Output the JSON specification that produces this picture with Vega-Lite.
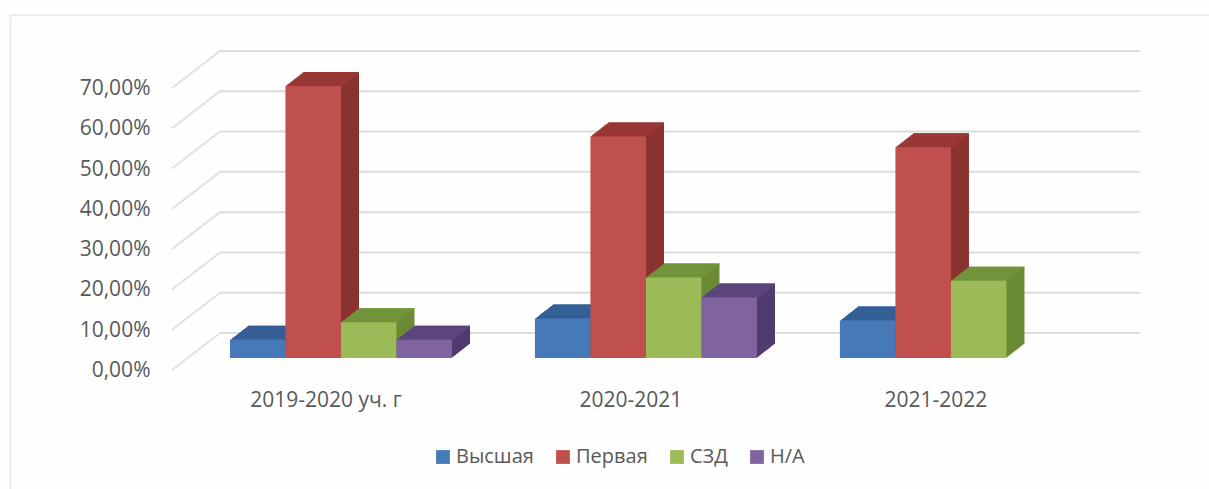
{
"$schema":"https://vega.github.io/schema/vega-lite/v6.json",
"width":968,"height":282,
"autosize":"none",
"padding":{"left":172,"top":76,"right":69,"bottom":131},
"background":"#fefefe",
"config":{"view":{"stroke":null},"font":"Open Sans"},
"datasets":{
 "ticks":[{"tick":0},{"tick":10},{"tick":20},{"tick":30},{"tick":40},{"tick":50},{"tick":60},{"tick":70}],
 "bars":[
 {"year":"2019-2020 уч. г","series":"Высшая","share":4.5},
 {"year":"2019-2020 уч. г","series":"Первая","share":67.5},
 {"year":"2019-2020 уч. г","series":"СЗД","share":8.9},
 {"year":"2019-2020 уч. г","series":"Н/А","share":4.5},
 {"year":"2020-2021","series":"Высшая","share":9.8},
 {"year":"2020-2021","series":"Первая","share":55},
 {"year":"2020-2021","series":"СЗД","share":20},
 {"year":"2020-2021","series":"Н/А","share":15},
 {"year":"2021-2022","series":"Высшая","share":9.3},
 {"year":"2021-2022","series":"Первая","share":52.3},
 {"year":"2021-2022","series":"СЗД","share":19.2}
 ]},
"resolve":{"scale":{"x":"independent"}},
"layer":[
{"data":{"values":[{"frame":"рамка"}]},
 "mark":{"type":"rect","fill":null,"stroke":"#ececec","strokeWidth":2},
 "encoding":{"x":{"datum":-3.955,"type":"quantitative","scale":{"domain":[-1.045,16.396],"nice":false,"zero":false},"axis":null},"x2":{"datum":17.75},"y":{"datum":85.1,"type":"quantitative","scale":{"domain":[0,70]}},"y2":{"datum":-34}}},
{"data":{"name":"ticks"},
 "encoding":{
  "y":{"field":"tick","type":"quantitative","scale":{"domain":[0,70]},"title":null,
   "axis":{"values":[0,10,20,30,40,50,60,70],"domain":false,"ticks":false,"grid":false,"labelPadding":22,"labelOffset":12.5,"labelFontSize":21,"labelColor":"#595959","labelExpr":"replace(format(datum.value,'.2f'),'.',',')+'%'"}},
  "y2":{"field":"tick"}
 },
 "layer":[
 {"mark":{"type":"rule","stroke":"#e2e2e2","strokeWidth":2,"yOffset":12,"y2Offset":-25},
  "encoding":{"x":{"datum":-1.045,"type":"quantitative","scale":{"domain":[-1.045,16.396],"nice":false,"zero":false},"axis":null},"x2":{"datum":-0.18}}},
 {"mark":{"type":"rule","stroke":"#dcdcdc","strokeWidth":2,"yOffset":-25,"y2Offset":-25},
  "encoding":{"x":{"datum":-0.18,"type":"quantitative","scale":{"domain":[-1.045,16.396],"nice":false,"zero":false},"axis":null},"x2":{"datum":16.396}}}
 ]},
{"data":{"name":"bars"},
 "transform":[
  {"calculate":"datum.series+' бок'","as":"side"},
  {"calculate":"datum.series+' верх'","as":"top"},
  {"calculate":"indexof(['2019-2020 уч. г','2020-2021','2021-2022'],datum.year)*5.495+indexof(['Высшая','Первая','СЗД','Н/А'],datum.series)","as":"slot"},
  {"calculate":"datum.slot+1","as":"slotEnd"}
 ],
 "encoding":{
  "x":{"field":"slot","type":"quantitative","title":null,"scale":{"domain":[-1.045,16.396],"nice":false,"zero":false},"axis":null},
  "x2":{"field":"slotEnd"},
  "y":{"field":"share","type":"quantitative"}
 },
 "layer":[
 {"mark":{"type":"rect","xOffset":18,"x2Offset":18,"yOffset":-14,"y2Offset":-14},"encoding":{"y2":{"datum":0},"color":{"field":"side","type":"nominal"}}},
 {"mark":{"type":"rect","xOffset":18,"x2Offset":18,"yOffset":-14,"y2Offset":-12.8},"encoding":{"y2":{"field":"share"},"color":{"field":"top","type":"nominal"}}},
 {"mark":{"type":"rect","xOffset":17,"x2Offset":17,"yOffset":-13.2,"y2Offset":-13.2},"encoding":{"y2":{"datum":0},"color":{"field":"side","type":"nominal"}}},
 {"mark":{"type":"rect","xOffset":17,"x2Offset":17,"yOffset":-13.2,"y2Offset":-12},"encoding":{"y2":{"field":"share"},"color":{"field":"top","type":"nominal"}}},
 {"mark":{"type":"rect","xOffset":16,"x2Offset":16,"yOffset":-12.4,"y2Offset":-12.4},"encoding":{"y2":{"datum":0},"color":{"field":"side","type":"nominal"}}},
 {"mark":{"type":"rect","xOffset":16,"x2Offset":16,"yOffset":-12.4,"y2Offset":-11.2},"encoding":{"y2":{"field":"share"},"color":{"field":"top","type":"nominal"}}},
 {"mark":{"type":"rect","xOffset":15,"x2Offset":15,"yOffset":-11.7,"y2Offset":-11.7},"encoding":{"y2":{"datum":0},"color":{"field":"side","type":"nominal"}}},
 {"mark":{"type":"rect","xOffset":15,"x2Offset":15,"yOffset":-11.7,"y2Offset":-10.5},"encoding":{"y2":{"field":"share"},"color":{"field":"top","type":"nominal"}}},
 {"mark":{"type":"rect","xOffset":14,"x2Offset":14,"yOffset":-10.9,"y2Offset":-10.9},"encoding":{"y2":{"datum":0},"color":{"field":"side","type":"nominal"}}},
 {"mark":{"type":"rect","xOffset":14,"x2Offset":14,"yOffset":-10.9,"y2Offset":-9.7},"encoding":{"y2":{"field":"share"},"color":{"field":"top","type":"nominal"}}},
 {"mark":{"type":"rect","xOffset":13,"x2Offset":13,"yOffset":-10.1,"y2Offset":-10.1},"encoding":{"y2":{"datum":0},"color":{"field":"side","type":"nominal"}}},
 {"mark":{"type":"rect","xOffset":13,"x2Offset":13,"yOffset":-10.1,"y2Offset":-8.9},"encoding":{"y2":{"field":"share"},"color":{"field":"top","type":"nominal"}}},
 {"mark":{"type":"rect","xOffset":12,"x2Offset":12,"yOffset":-9.3,"y2Offset":-9.3},"encoding":{"y2":{"datum":0},"color":{"field":"side","type":"nominal"}}},
 {"mark":{"type":"rect","xOffset":12,"x2Offset":12,"yOffset":-9.3,"y2Offset":-8.1},"encoding":{"y2":{"field":"share"},"color":{"field":"top","type":"nominal"}}},
 {"mark":{"type":"rect","xOffset":11,"x2Offset":11,"yOffset":-8.6,"y2Offset":-8.6},"encoding":{"y2":{"datum":0},"color":{"field":"side","type":"nominal"}}},
 {"mark":{"type":"rect","xOffset":11,"x2Offset":11,"yOffset":-8.6,"y2Offset":-7.4},"encoding":{"y2":{"field":"share"},"color":{"field":"top","type":"nominal"}}},
 {"mark":{"type":"rect","xOffset":10,"x2Offset":10,"yOffset":-7.8,"y2Offset":-7.8},"encoding":{"y2":{"datum":0},"color":{"field":"side","type":"nominal"}}},
 {"mark":{"type":"rect","xOffset":10,"x2Offset":10,"yOffset":-7.8,"y2Offset":-6.6},"encoding":{"y2":{"field":"share"},"color":{"field":"top","type":"nominal"}}},
 {"mark":{"type":"rect","xOffset":9,"x2Offset":9,"yOffset":-7,"y2Offset":-7},"encoding":{"y2":{"datum":0},"color":{"field":"side","type":"nominal"}}},
 {"mark":{"type":"rect","xOffset":9,"x2Offset":9,"yOffset":-7,"y2Offset":-5.8},"encoding":{"y2":{"field":"share"},"color":{"field":"top","type":"nominal"}}},
 {"mark":{"type":"rect","xOffset":8,"x2Offset":8,"yOffset":-6.2,"y2Offset":-6.2},"encoding":{"y2":{"datum":0},"color":{"field":"side","type":"nominal"}}},
 {"mark":{"type":"rect","xOffset":8,"x2Offset":8,"yOffset":-6.2,"y2Offset":-5},"encoding":{"y2":{"field":"share"},"color":{"field":"top","type":"nominal"}}},
 {"mark":{"type":"rect","xOffset":7,"x2Offset":7,"yOffset":-5.4,"y2Offset":-5.4},"encoding":{"y2":{"datum":0},"color":{"field":"side","type":"nominal"}}},
 {"mark":{"type":"rect","xOffset":7,"x2Offset":7,"yOffset":-5.4,"y2Offset":-4.2},"encoding":{"y2":{"field":"share"},"color":{"field":"top","type":"nominal"}}},
 {"mark":{"type":"rect","xOffset":6,"x2Offset":6,"yOffset":-4.7,"y2Offset":-4.7},"encoding":{"y2":{"datum":0},"color":{"field":"side","type":"nominal"}}},
 {"mark":{"type":"rect","xOffset":6,"x2Offset":6,"yOffset":-4.7,"y2Offset":-3.5},"encoding":{"y2":{"field":"share"},"color":{"field":"top","type":"nominal"}}},
 {"mark":{"type":"rect","xOffset":5,"x2Offset":5,"yOffset":-3.9,"y2Offset":-3.9},"encoding":{"y2":{"datum":0},"color":{"field":"side","type":"nominal"}}},
 {"mark":{"type":"rect","xOffset":5,"x2Offset":5,"yOffset":-3.9,"y2Offset":-2.7},"encoding":{"y2":{"field":"share"},"color":{"field":"top","type":"nominal"}}},
 {"mark":{"type":"rect","xOffset":4,"x2Offset":4,"yOffset":-3.1,"y2Offset":-3.1},"encoding":{"y2":{"datum":0},"color":{"field":"side","type":"nominal"}}},
 {"mark":{"type":"rect","xOffset":4,"x2Offset":4,"yOffset":-3.1,"y2Offset":-1.9},"encoding":{"y2":{"field":"share"},"color":{"field":"top","type":"nominal"}}},
 {"mark":{"type":"rect","xOffset":3,"x2Offset":3,"yOffset":-2.3,"y2Offset":-2.3},"encoding":{"y2":{"datum":0},"color":{"field":"side","type":"nominal"}}},
 {"mark":{"type":"rect","xOffset":3,"x2Offset":3,"yOffset":-2.3,"y2Offset":-1.1},"encoding":{"y2":{"field":"share"},"color":{"field":"top","type":"nominal"}}},
 {"mark":{"type":"rect","xOffset":2,"x2Offset":2,"yOffset":-1.6,"y2Offset":-1.6},"encoding":{"y2":{"datum":0},"color":{"field":"side","type":"nominal"}}},
 {"mark":{"type":"rect","xOffset":2,"x2Offset":2,"yOffset":-1.6,"y2Offset":-0.4},"encoding":{"y2":{"field":"share"},"color":{"field":"top","type":"nominal"}}},
 {"mark":{"type":"rect","xOffset":1,"x2Offset":1,"yOffset":-0.8,"y2Offset":-0.8},"encoding":{"y2":{"datum":0},"color":{"field":"side","type":"nominal"}}},
 {"mark":{"type":"rect","xOffset":1,"x2Offset":1,"yOffset":-0.8,"y2Offset":0.4},"encoding":{"y2":{"field":"share"},"color":{"field":"top","type":"nominal"}}}
 ]},
{"data":{"name":"bars"},
 "mark":{"type":"bar"},
 "encoding":{
  "x":{"field":"year","type":"nominal","title":null,"sort":null,
   "scale":{"paddingInner":0.272,"paddingOuter":0.223,"align":0.426},
   "axis":{"domain":false,"ticks":false,"labelAngle":0,"labelPadding":31,"labelOffset":-15,"labelFontSize":21,"labelColor":"#595959"}},
  "xOffset":{"field":"series","type":"nominal","sort":null,"scale":{"domain":["Высшая","Первая","СЗД","Н/А"],"paddingInner":0,"paddingOuter":0}},
  "y":{"field":"share","type":"quantitative"},
  "color":{"field":"series","type":"nominal","title":null,
   "scale":{"domain":["Высшая","Первая","СЗД","Н/А","Высшая бок","Первая бок","СЗД бок","Н/А бок","Высшая верх","Первая верх","СЗД верх","Н/А верх"],
            "range":["#4579b8","#c0504d","#9bbb59","#8064a2","#2e5a8e","#8a3230","#6a8a35","#4f3b70","#376299","#9c3a37","#74963d","#5f4a82"]},
   "legend":{"values":["Высшая","Первая","СЗД","Н/А"],"orient":"none","legendX":261,"legendY":371,"direction":"horizontal","columns":4,"symbolType":"square","symbolSize":190,"symbolStrokeWidth":0,"labelFontSize":20,"labelColor":"#595959","columnPadding":19,"labelOffset":3}}
 }}
]
}
